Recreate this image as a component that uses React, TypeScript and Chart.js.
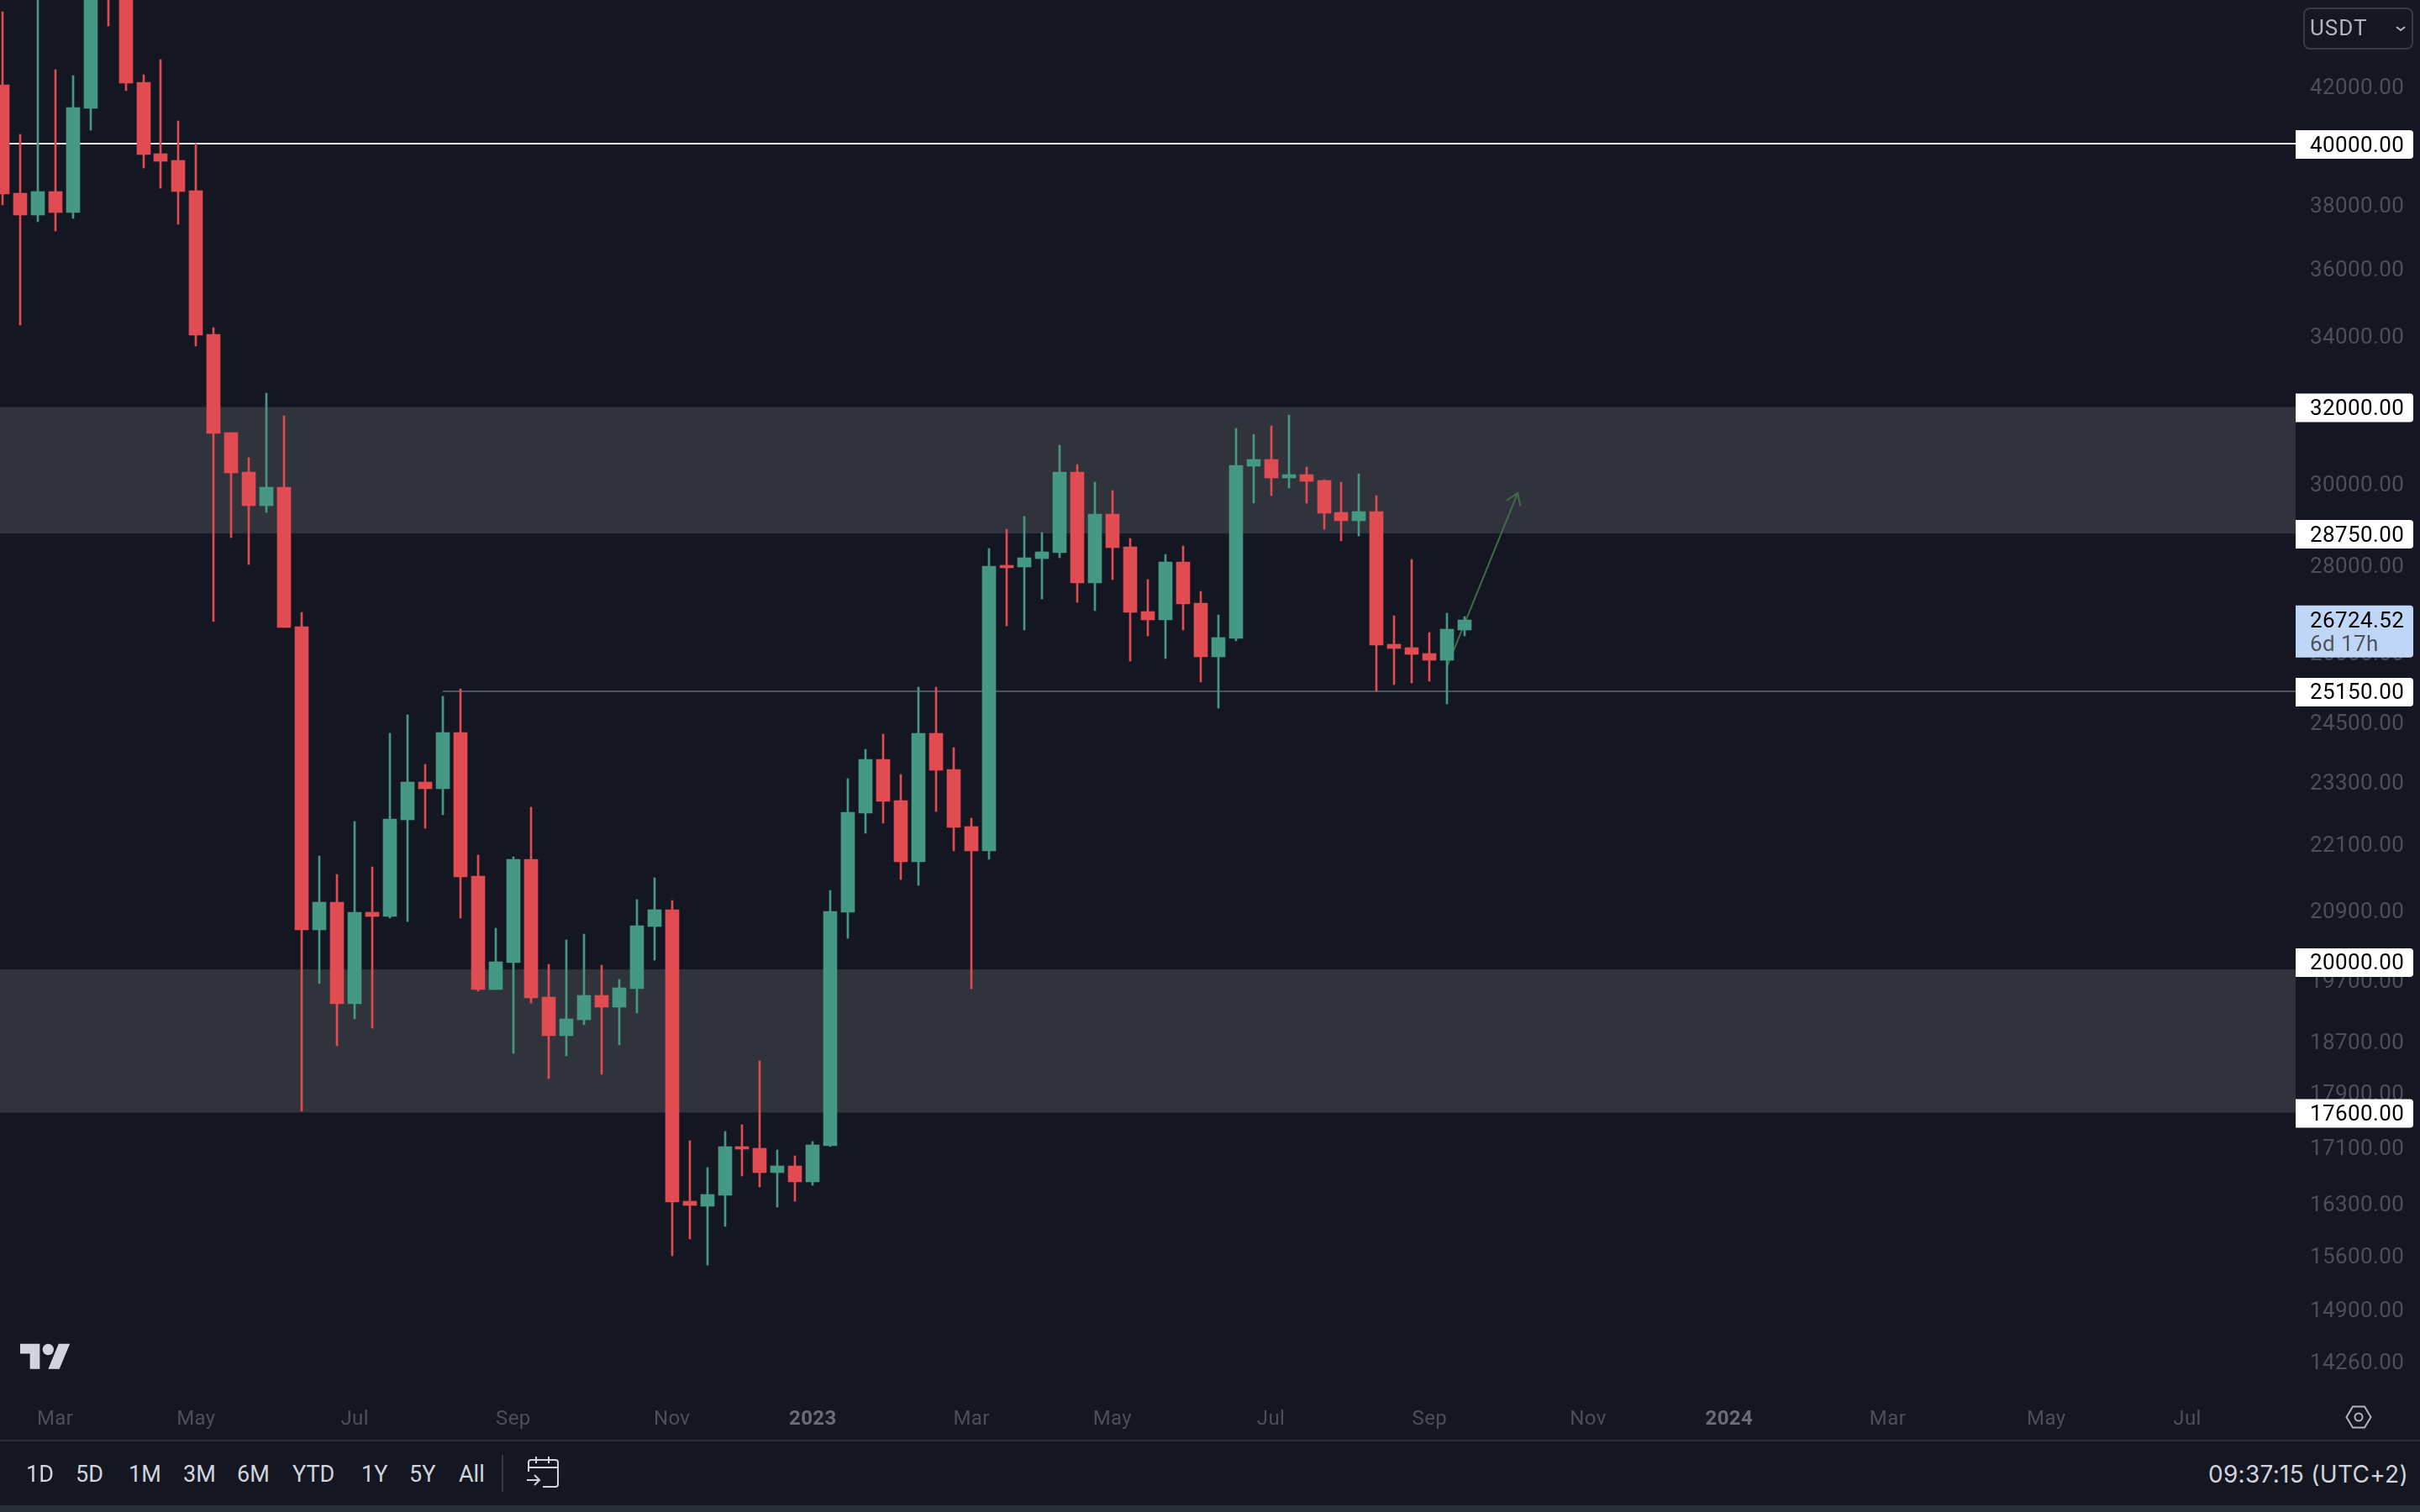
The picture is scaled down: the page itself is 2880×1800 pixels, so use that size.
import { useEffect, useRef } from 'react';
import { Chart, registerables } from 'chart.js';

Chart.register(...registerables);

// weekly candles, the first few run off the top of the picture
const opens = [42040, 38355, 37650, 38410, 37735, 41215, 46600, 45700, 42135, 39660, 39435, 38435, 34030, 31315, 30285, 29435, 29895, 26565, 20545, 21035, 19300, 20855, 20780, 22555, 23290, 23155, 24285, 21505, 19535, 19985, 21810, 19410, 18785, 19040, 19435, 19245, 19550, 20605, 20900, 16325, 16260, 16410, 17100, 17075, 16725, 16820, 16595, 17110, 20855, 22685, 23740, 22925, 21765, 24270, 23540, 22425, 21970, 27985, 27945, 28140, 28285, 30285, 27570, 29225, 28425, 26910, 26715, 28065, 27100, 25895, 26300, 30435, 30610, 30130, 30220, 30070, 29265, 29060, 29285, 26170, 26100, 25970, 25820, 26490];
const highs = [44730, 40315, 45500, 42585, 42375, 47000, 48000, 46500, 42405, 42950, 40775, 40000, 34225, 31315, 30650, 32380, 31760, 26890, 21875, 21535, 22520, 21675, 24270, 24655, 23640, 25040, 25205, 21890, 20575, 21860, 22795, 19955, 20370, 20475, 19940, 19700, 21080, 21475, 21065, 17185, 16800, 17320, 17420, 18385, 17050, 16965, 17175, 21245, 23355, 23945, 24255, 23440, 25240, 25240, 23980, 22585, 28385, 28850, 29160, 28770, 30980, 30475, 30025, 29810, 28625, 27645, 28245, 28445, 27370, 26830, 31425, 31270, 31490, 31785, 30410, 30090, 30025, 30240, 29685, 26815, 28125, 26435, 26870, 26795];
const lows = [37975, 34300, 37440, 37145, 37545, 40460, 44190, 41835, 39185, 38520, 37360, 33695, 26680, 28650, 28005, 29265, 26545, 17620, 19630, 18625, 19055, 18905, 20750, 20695, 22395, 22650, 20750, 19505, 19535, 18505, 19315, 18115, 18465, 18960, 18180, 18635, 19150, 20025, 15590, 15810, 15465, 15985, 16680, 16525, 16245, 16325, 16550, 17100, 20400, 22300, 22490, 21445, 21335, 22715, 21970, 19550, 21810, 26585, 26490, 27195, 28160, 27120, 26925, 27645, 25800, 26360, 25855, 26490, 25345, 24795, 26245, 29495, 29685, 29875, 29495, 28850, 28565, 28685, 25150, 25295, 25330, 25365, 24880, 26360];
const closes = [38330, 37650, 38410, 37735, 41245, 46000, 45600, 42105, 39630, 39405, 38410, 34010, 31290, 30260, 29435, 29895, 26545, 20545, 21035, 19300, 20855, 20780, 22570, 23290, 23155, 24285, 21490, 19535, 20000, 21810, 19395, 18785, 19055, 19435, 19245, 19560, 20620, 20900, 16315, 16270, 16420, 17100, 17065, 16725, 16820, 16595, 17125, 20870, 22700, 23740, 22910, 21765, 24270, 23520, 22410, 21970, 27965, 27925, 28160, 28305, 30285, 27570, 29225, 28405, 26890, 26715, 28065, 27080, 25895, 26320, 30455, 30610, 30130, 30220, 30045, 29245, 29060, 29285, 26155, 26080, 25950, 25820, 26510, 26724.52];

const priceTicks = [42000, 38000, 36000, 34000, 30000, 28000, 26000, 24500, 23300, 22100, 20900, 19700, 18700, 17900, 17100, 16300, 15600, 14900, 14260];
const levelLabels = [40000, 32000, 28750, 25150, 20000, 17600];
const lastPrice = 26724.52;
const countdown = '6d 17h';

const monthWeeks = [3, 11, 20, 29, 38, 46, 55, 63, 72, 81, 90, 98, 107, 116, 124];
const monthNames = ['Mar', 'May', 'Jul', 'Sep', 'Nov', '2023', 'Mar', 'May', 'Jul', 'Sep', 'Nov', '2024', 'Mar', 'May', 'Jul'];

const zones = [[32000, 28750], [19870, 17600]];
const arrowWeeks = [82, 86];
const arrowPrices = [25690, 29750];
const rangeButtons = ['1D', '5D', '1M', '3M', '6M', 'YTD', '1Y', '5Y', 'All'];
const rangeButtonX = [31, 90, 153, 218, 282, 348, 430, 487, 546];

const BG = '#141722';
const UP = '#459884';
const DOWN = '#e14b52';
const FONT = 'Roboto';

const overlayPlugin = {
  id: 'overlay',
  // candles sit on whole pixels in the reference, no soft edges
  afterDatasetsUpdate(chart: any) {
    chart.getSortedVisibleDatasetMetas().forEach((meta: any) => {
      if (meta.type !== 'bar') return;
      meta.data.forEach((el: any) => {
        el.x = Math.round(el.x);
        el.y = Math.round(el.y);
        el.base = Math.round(el.base);
      });
    });
  },
  beforeDraw(chart: any) {
    chart.ctx.letterSpacing = '0.4px';
  },
  beforeDatasetsDraw(chart: any) {
    const { ctx, chartArea, scales } = chart;
    ctx.save();
    ctx.fillStyle = '#30333b';
    zones.forEach(([top, bottom]) => {
      const y0 = scales.y.getPixelForValue(top);
      const y1 = scales.y.getPixelForValue(bottom);
      ctx.fillRect(chartArea.left, y0, chartArea.right - chartArea.left, y1 - y0);
    });
    // arrow head, the shaft is a line dataset
    const x0 = scales.x.getPixelForValue(arrowWeeks[0]);
    const y0 = scales.y.getPixelForValue(arrowPrices[0]);
    const x1 = scales.x.getPixelForValue(arrowWeeks[1]);
    const y1 = scales.y.getPixelForValue(arrowPrices[1]);
    const a = Math.atan2(y1 - y0, x1 - x0);
    ctx.strokeStyle = '#41694a';
    ctx.lineWidth = 2;
    ctx.beginPath();
    ctx.moveTo(x1 + 16 * Math.cos(a + 2.55), y1 + 16 * Math.sin(a + 2.55));
    ctx.lineTo(x1, y1);
    ctx.lineTo(x1 + 16 * Math.cos(a - 2.55), y1 + 16 * Math.sin(a - 2.55));
    ctx.stroke();
    ctx.restore();
  },
  afterDraw(chart: any) {
    const { ctx, chartArea, scales } = chart;
    const left = chartArea.right;
    ctx.save();
    ctx.textBaseline = 'middle';
    ctx.font = `26px ${FONT}`;
    levelLabels.forEach((v) => {
      const y = scales.y.getPixelForValue(v);
      ctx.fillStyle = '#ffffff';
      ctx.beginPath();
      ctx.roundRect(left, y - 16, 140, 34, [0, 4, 4, 0]);
      ctx.fill();
      ctx.fillStyle = '#000000';
      ctx.fillText(v.toFixed(2), left + 17, y + 3);
    });
    const py = scales.y.getPixelForValue(lastPrice);
    ctx.fillStyle = '#bfd6f6';
    ctx.beginPath();
    ctx.roundRect(left, py - 17, 140, 62, [0, 4, 4, 0]);
    ctx.fill();
    ctx.fillStyle = '#000000';
    ctx.fillText(lastPrice.toFixed(2), left + 17, py + 3);
    ctx.fillStyle = '#50535e';
    ctx.fillText(countdown, left + 17, py + 31);
    ctx.restore();
  },
};

const text = (x: number, y: number, size: number, color: string) => ({
  position: 'absolute' as const,
  left: x,
  top: y,
  fontFamily: FONT,
  fontSize: size,
  lineHeight: '40px',
  color,
  whiteSpace: 'nowrap' as const,
});

// tick labels stick out of the plot otherwise and chart.js pushes the area in
const noPadding = (axis: any) => {
  axis.paddingTop = 0;
  axis.paddingBottom = 0;
  axis.paddingLeft = 0;
  axis.paddingRight = 0;
};

export default function App() {
  const chartRef = useRef<HTMLCanvasElement>(null);

  useEffect(() => {
    if (!chartRef.current) return;
    const body = opens.map((o, i) => ({ x: i, y: [o, closes[i]] }));
    const wick = lows.map((l, i) => ({ x: i, y: [l, highs[i]] }));
    const colors = opens.map((o, i) => (closes[i] >= o ? UP : DOWN));
    const chart = new Chart(chartRef.current, {
      type: 'bar',
      data: {
        datasets: [
          { data: body, backgroundColor: colors, maxBarThickness: 16, barPercentage: 1, categoryPercentage: 1, grouped: false },
          { data: wick, backgroundColor: colors, maxBarThickness: 2, barPercentage: 1, categoryPercentage: 1, grouped: false },
          { type: 'line', data: arrowWeeks.map((x, i) => ({ x, y: arrowPrices[i] })), borderColor: '#41694a', borderWidth: 2, pointRadius: 0 },
          { type: 'line', data: [{ x: 25, y: levelLabels[3] }, { x: 140, y: levelLabels[3] }], borderColor: '#50535b', borderWidth: 2, pointRadius: 0 },
          { type: 'line', data: [{ x: -1, y: levelLabels[0] }, { x: 140, y: levelLabels[0] }], borderColor: '#e8e8ea', borderWidth: 2, pointRadius: 0 },
        ],
      } as any,
      options: {
        responsive: false,
        animation: false,
        events: [],
        layout: { padding: 0 },
        plugins: { legend: { display: false }, tooltip: { enabled: false } },
        scales: {
          x: {
            type: 'linear',
            min: -0.131,
            max: 130.15,
            offset: false,
            grid: { display: false, drawTicks: false },
            border: { display: false },
            afterBuildTicks: (axis: any) => {
              axis.ticks = monthWeeks.map((value) => ({ value }));
            },
            afterFit: (axis: any) => {
              axis.height = 55;
              noPadding(axis);
            },
            ticks: {
              autoSkip: false,
              maxRotation: 0,
              padding: 16,
              callback: (v: any) => monthNames[monthWeeks.indexOf(v)],
              color: (c: any) => (c.tick && monthNames[monthWeeks.indexOf(c.tick.value)].startsWith('20') ? '#6a6d78' : '#4c4f59'),
              font: (c: any) => ({
                family: FONT,
                size: 24,
                weight: c.tick && monthNames[monthWeeks.indexOf(c.tick.value)].startsWith('20') ? 'bold' : 'normal',
              }),
            },
          },
          y: {
            type: 'logarithmic',
            position: 'right',
            min: 13862,
            max: 45177,
            grid: { display: false, drawTicks: false },
            border: { display: false },
            afterBuildTicks: (axis: any) => {
              axis.ticks = priceTicks.map((value) => ({ value }));
            },
            afterFit: (axis: any) => {
              axis.width = 148;
              noPadding(axis);
            },
            ticks: {
              autoSkip: false,
              padding: 17,
              labelOffset: 3,
              color: '#4c4f59',
              font: { family: FONT, size: 26 },
              callback: (v: any) => Number(v).toFixed(2),
            },
          },
        },
      } as any,
      plugins: [overlayPlugin],
    });
    return () => chart.destroy();
  }, []);

  return (
    <div style={{ position: 'fixed', left: 0, top: 0, width: 2880, height: 1800, background: BG, overflow: 'hidden' }}>
      <canvas ref={chartRef} width={2880} height={1715} style={{ position: 'absolute', left: 0, top: 0, display: 'block' }} />
      <div style={{ position: 'absolute', left: 2741, top: 9, width: 127, height: 46, border: '2px solid #363a45', borderRadius: 8 }} />
      <div style={{ ...text(2749, 13, 26, '#b2b5be'), letterSpacing: 1 }}>USDT</div>
      <svg style={{ position: 'absolute', left: 2850, top: 30 }} width="14" height="10" viewBox="0 0 14 10">
        <path d="M2 2 L7 6 L12 2" fill="none" stroke="#b2b5be" strokeWidth="2" />
      </svg>
      <svg style={{ position: 'absolute', left: 24, top: 1593 }} width="60" height="47" viewBox="0 0 36 28">
        <g fill="#d1d4dc">
          <path d="M14 22H7V11H0V4h14v18zM28 22h-8l7.5-18h8L28 22z" />
          <circle cx="20" cy="8" r="4" />
        </g>
      </svg>
      <svg style={{ position: 'absolute', left: 2790, top: 1672 }} width="34" height="30" viewBox="0 0 34 30">
        <polygon points="2.5,15 10,2.5 24,2.5 31.5,15 24,27.5 10,27.5" fill="none" stroke="#b2b5be" strokeWidth="2" />
        <circle cx="17" cy="15" r="4.5" fill="none" stroke="#b2b5be" strokeWidth="2" />
      </svg>
      <div style={{ position: 'absolute', left: 0, top: 1714, width: 2880, height: 2, background: '#2a2e39' }} />
      {rangeButtons.map((b, i) => (
        <div key={b} style={text(rangeButtonX[i], 1735, 27, '#d1d4dc')}>{b}</div>
      ))}
      <div style={{ position: 'absolute', left: 597, top: 1732, width: 2, height: 44, background: '#363a45' }} />
      <svg style={{ position: 'absolute', left: 626, top: 1733 }} width="40" height="38" viewBox="0 0 40 38" fill="none" stroke="#d1d4dc" strokeWidth="2">
        <path d="M3 19V8a3 3 0 0 1 3-3h29a3 3 0 0 1 3 3v26a3 3 0 0 1-3 3H20M3 14h35M12 1v8M27 1v8M1 29h15M10 23l6 6-6 6" />
      </svg>
      <div style={{ position: 'absolute', right: 14, top: 1735, fontFamily: 'Inter', fontSize: 28, letterSpacing: 0.3, lineHeight: '40px', color: '#d1d4dc' }}>09:37:15 (UTC+2)</div>
      <div style={{ position: 'absolute', left: 0, top: 1792, width: 2880, height: 8, background: '#2a2e39' }} />
    </div>
  );
}
